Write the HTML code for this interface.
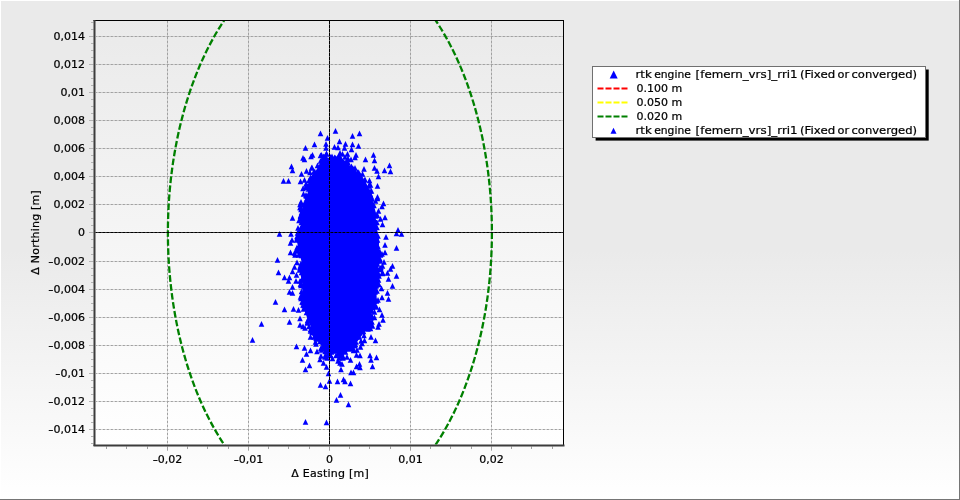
<!DOCTYPE html>
<html lang="en"><head><meta charset="utf-8"><title>Position scatter</title>
<style>
html,body{margin:0;padding:0;background:#fff;}
body{width:960px;height:500px;overflow:hidden;}
svg{display:block;}
text{font-family:"DejaVu Sans","Liberation Sans",sans-serif;font-size:11px;fill:#000;stroke:#000;stroke-width:0.22px;}
</style></head><body>
<svg width="960" height="500" viewBox="0 0 960 500">
<defs>
<linearGradient id="gp" x1="0" y1="0" x2="0" y2="1"><stop offset="0" stop-color="#eaeaea"/><stop offset="0.5" stop-color="#eaeaea"/><stop offset="1" stop-color="#ffffff"/></linearGradient>
<linearGradient id="gw" x1="0" y1="0" x2="0" y2="1"><stop offset="0" stop-color="#eaeaea"/><stop offset="1" stop-color="#ffffff"/></linearGradient>
<clipPath id="cp"><rect x="96" y="21" width="467" height="423.5"/></clipPath>
</defs>
<rect x="0" y="0" width="960" height="500" fill="url(#gp)"/>
<rect x="0" y="0" width="960" height="1" fill="#fff"/>
<rect x="0" y="0" width="1" height="500" fill="#fff"/>
<rect x="0" y="499" width="960" height="1" fill="#757575"/>
<rect x="959" y="0" width="1" height="500" fill="#757575"/>
<rect x="95" y="20" width="468" height="425" fill="url(#gw)"/>

<path d="M96 429.5H563M96 401.5H563M96 373.5H563M96 345.5H563M96 317.5H563M96 289.5H563M96 261.5H563M96 204.5H563M96 176.5H563M96 148.5H563M96 120.5H563M96 92.5H563M96 64.5H563M96 36.5H563M167.5 21V444.5M248.5 21V444.5M410.5 21V444.5M491.5 21V444.5" stroke="#000" stroke-opacity="0.13" stroke-width="1" fill="none"/>
<g stroke="#a0a0a0" stroke-width="1" stroke-dasharray="2 2" fill="none">
<path stroke-dashoffset="1.15" d="M96 429.5H563M96 401.5H563M96 373.5H563M96 345.5H563M96 317.5H563M96 289.5H563M96 261.5H563M96 204.5H563M96 176.5H563M96 148.5H563M96 120.5H563M96 92.5H563M96 64.5H563M96 36.5H563"/>
<path stroke-dashoffset="0.05" d="M167.5 21V444.5M248.5 21V444.5M410.5 21V444.5M491.5 21V444.5"/>
</g>
<path d="M96 232.5H563M329.5 21V444.5" stroke="#585858" stroke-width="1" fill="none"/>
<path d="M89 429.5H93.5M89 401.5H93.5M89 373.5H93.5M89 345.5H93.5M89 317.5H93.5M89 289.5H93.5M89 261.5H93.5M89 232.5H93.5M89 204.5H93.5M89 176.5H93.5M89 148.5H93.5M89 120.5H93.5M89 92.5H93.5M89 64.5H93.5M89 36.5H93.5M91 443.5H93.5M91 436.5H93.5M91 422.5H93.5M91 415.5H93.5M91 408.5H93.5M91 394.5H93.5M91 387.5H93.5M91 380.5H93.5M91 366.5H93.5M91 359.5H93.5M91 352.5H93.5M91 338.5H93.5M91 331.5H93.5M91 324.5H93.5M91 310.5H93.5M91 303.5H93.5M91 296.5H93.5M91 282.5H93.5M91 275.5H93.5M91 268.5H93.5M91 254.5H93.5M91 247.5H93.5M91 239.5H93.5M91 225.5H93.5M91 218.5H93.5M91 211.5H93.5M91 197.5H93.5M91 190.5H93.5M91 183.5H93.5M91 169.5H93.5M91 162.5H93.5M91 155.5H93.5M91 141.5H93.5M91 134.5H93.5M91 127.5H93.5M91 113.5H93.5M91 106.5H93.5M91 99.5H93.5M91 85.5H93.5M91 78.5H93.5M91 71.5H93.5M91 57.5H93.5M91 50.5H93.5M91 43.5H93.5M91 29.5H93.5M91 22.5H93.5" stroke="#b4b4b4" stroke-width="1" fill="none"/>
<path d="M167.5 446.5V450.7M248.5 446.5V450.7M329.5 446.5V450.7M410.5 446.5V450.7M491.5 446.5V450.7M106.5 446.5V449M126.5 446.5V449M147.5 446.5V449M187.5 446.5V449M207.5 446.5V449M228.5 446.5V449M268.5 446.5V449M288.5 446.5V449M309.5 446.5V449M349.5 446.5V449M369.5 446.5V449M390.5 446.5V449M430.5 446.5V449M450.5 446.5V449M471.5 446.5V449M511.5 446.5V449M531.5 446.5V449M552.5 446.5V449" stroke="#a0a0a0" stroke-width="1" fill="none"/>
<rect x="563" y="20" width="1" height="425" fill="#000"/>
<rect x="93.5" y="20" width="470.5" height="1" fill="#000"/>
<rect x="93.5" y="20" width="2" height="426" fill="#3c3c3c"/>
<rect x="93.5" y="444.5" width="471" height="2" fill="#3c3c3c"/>
<g clip-path="url(#cp)"><ellipse cx="329.9" cy="232.5" rx="162" ry="280" fill="none" stroke="#008000" stroke-width="2.3" stroke-dasharray="6.6 2.4"/></g>
<g fill="#0000ff" stroke="none">
<path d="M340.7 158.0L322.6 158.0L317.0 168.7L311.6 177.7L308.9 186.6L307.0 196.1L302.4 205.5L301.5 213.9L302.4 219.4L298.6 232.7L296.9 241.4L301.5 261.6L300.6 275.0L302.4 284.3L302.0 286.3L302.4 291.3L302.4 304.0L307.9 320.2L312.8 331.2L320.2 344.2L323.6 349.3L329.5 353.9L344.3 353.6L350.7 349.0L355.7 343.8L369.0 325.7L371.5 312.7L376.9 303.6L376.4 291.1L377.5 283.9L378.2 275.1L378.2 250.8L379.3 241.4L375.1 219.2L376.2 214.0L371.4 196.2L368.4 187.2L363.1 178.4L344.3 160.2Z"/>
<path d="M302 213l2.8 5.7h-5.6zM301.5 219l2.8 5.7h-5.6zM304 201.5l2.8 5.7h-5.6zM301.5 269.5l2.8 5.7h-5.6zM379 249.5l2.8 5.7h-5.6zM310 183l2.8 5.7h-5.6zM300.5 262.5l2.8 5.7h-5.6zM359 334l2.8 5.7h-5.6zM300.5 281l2.8 5.7h-5.6zM368 323.5l2.8 5.7h-5.6zM334 157l2.8 5.7h-5.6zM376.5 298l2.8 5.7h-5.6zM372 313l2.8 5.7h-5.6zM377.5 245.5l2.8 5.7h-5.6zM377.5 251.5l2.8 5.7h-5.6zM312 324l2.8 5.7h-5.6zM380 258l2.8 5.7h-5.6zM380 256l2.8 5.7h-5.6zM355 165l2.8 5.7h-5.6zM303 299.5l2.8 5.7h-5.6zM374 215.5l2.8 5.7h-5.6zM364 177.5l2.8 5.7h-5.6zM339 155l2.8 5.7h-5.6zM316.5 336l2.8 5.7h-5.6zM316 335l2.8 5.7h-5.6zM379.5 266.5l2.8 5.7h-5.6zM377.5 237l2.8 5.7h-5.6zM301.5 288.5l2.8 5.7h-5.6zM301 213.5l2.8 5.7h-5.6zM359 333.5l2.8 5.7h-5.6zM301 280l2.8 5.7h-5.6zM369.5 315l2.8 5.7h-5.6zM379 281.5l2.8 5.7h-5.6zM304 283l2.8 5.7h-5.6zM299 244.5l2.8 5.7h-5.6zM317 331.5l2.8 5.7h-5.6zM375 221l2.8 5.7h-5.6zM307.5 183.5l2.8 5.7h-5.6zM369 318l2.8 5.7h-5.6zM301 206.5l2.8 5.7h-5.6zM357.5 171.5l2.8 5.7h-5.6zM378.5 270.5l2.8 5.7h-5.6zM307.5 320l2.8 5.7h-5.6zM300.5 213.5l2.8 5.7h-5.6zM377.5 265.5l2.8 5.7h-5.6zM330.5 155l2.8 5.7h-5.6zM379 273l2.8 5.7h-5.6zM368 325l2.8 5.7h-5.6zM345.5 161l2.8 5.7h-5.6zM320 338.5l2.8 5.7h-5.6zM355.5 341.5l2.8 5.7h-5.6zM376 287l2.8 5.7h-5.6zM301.5 209.5l2.8 5.7h-5.6zM309.5 182.5l2.8 5.7h-5.6zM299 235l2.8 5.7h-5.6zM297 233.5l2.8 5.7h-5.6zM351.5 163.5l2.8 5.7h-5.6zM308 193l2.8 5.7h-5.6zM370.5 193l2.8 5.7h-5.6zM377 224.5l2.8 5.7h-5.6zM346.5 158l2.8 5.7h-5.6zM306.5 193l2.8 5.7h-5.6zM370.5 197.5l2.8 5.7h-5.6zM353 345l2.8 5.7h-5.6zM299 229.5l2.8 5.7h-5.6zM315 170.5l2.8 5.7h-5.6zM299 233.5l2.8 5.7h-5.6zM298.5 252l2.8 5.7h-5.6zM302.5 294.5l2.8 5.7h-5.6zM368.5 319.5l2.8 5.7h-5.6zM323 157l2.8 5.7h-5.6zM365 181.5l2.8 5.7h-5.6zM322.5 155.5l2.8 5.7h-5.6zM311.5 327.5l2.8 5.7h-5.6zM378 233l2.8 5.7h-5.6zM374 217l2.8 5.7h-5.6zM302 219.5l2.8 5.7h-5.6zM370.5 191.5l2.8 5.7h-5.6zM300 264l2.8 5.7h-5.6zM370.5 320.5l2.8 5.7h-5.6zM332 155l2.8 5.7h-5.6zM309.5 177.5l2.8 5.7h-5.6zM377.5 275l2.8 5.7h-5.6zM376.5 230l2.8 5.7h-5.6zM373.5 202.5l2.8 5.7h-5.6zM366.5 324l2.8 5.7h-5.6zM301.5 225.5l2.8 5.7h-5.6zM299.5 245.5l2.8 5.7h-5.6zM369 183l2.8 5.7h-5.6zM380 258l2.8 5.7h-5.6zM330.5 154l2.8 5.7h-5.6zM307.5 317.5l2.8 5.7h-5.6zM297.5 236l2.8 5.7h-5.6zM300.5 204.5l2.8 5.7h-5.6zM378 266.5l2.8 5.7h-5.6zM313.5 172l2.8 5.7h-5.6zM376.5 304l2.8 5.7h-5.6zM304 216.5l2.8 5.7h-5.6zM321 345l2.8 5.7h-5.6zM303 302l2.8 5.7h-5.6zM343.5 349l2.8 5.7h-5.6zM360.5 172.5l2.8 5.7h-5.6zM378 297l2.8 5.7h-5.6zM377.5 254l2.8 5.7h-5.6zM352 166.5l2.8 5.7h-5.6zM353 165.5l2.8 5.7h-5.6zM369.5 310.5l2.8 5.7h-5.6zM314.5 330l2.8 5.7h-5.6zM309 182l2.8 5.7h-5.6zM330.5 352l2.8 5.7h-5.6zM312 329.5l2.8 5.7h-5.6zM378 243.5l2.8 5.7h-5.6zM339 351l2.8 5.7h-5.6zM302 291l2.8 5.7h-5.6zM301.5 252.5l2.8 5.7h-5.6zM316.5 334.5l2.8 5.7h-5.6zM376.5 282l2.8 5.7h-5.6zM371 307.5l2.8 5.7h-5.6zM363.5 328.5l2.8 5.7h-5.6zM354.5 342.5l2.8 5.7h-5.6zM374.5 210.5l2.8 5.7h-5.6zM378.5 277l2.8 5.7h-5.6zM378 281l2.8 5.7h-5.6zM374 202.5l2.8 5.7h-5.6zM335.5 155l2.8 5.7h-5.6zM300 231l2.8 5.7h-5.6zM313.5 327l2.8 5.7h-5.6zM341.5 350l2.8 5.7h-5.6zM340.5 352.5l2.8 5.7h-5.6zM300.5 212.5l2.8 5.7h-5.6zM341.5 156.5l2.8 5.7h-5.6zM366.5 325.5l2.8 5.7h-5.6zM372 196l2.8 5.7h-5.6zM375 289l2.8 5.7h-5.6zM372.5 304.5l2.8 5.7h-5.6zM364 332.5l2.8 5.7h-5.6zM320.5 158l2.8 5.7h-5.6zM371 321l2.8 5.7h-5.6zM323.5 345.5l2.8 5.7h-5.6zM306 192.5l2.8 5.7h-5.6zM375 288.5l2.8 5.7h-5.6zM299 251.5l2.8 5.7h-5.6zM303.5 210l2.8 5.7h-5.6zM310.5 174.5l2.8 5.7h-5.6zM308.5 186l2.8 5.7h-5.6zM323.5 153.5l2.8 5.7h-5.6zM356 339l2.8 5.7h-5.6zM352 346l2.8 5.7h-5.6zM369 192l2.8 5.7h-5.6zM350.5 165l2.8 5.7h-5.6zM297 244.5l2.8 5.7h-5.6zM347.5 162l2.8 5.7h-5.6zM377 219.5l2.8 5.7h-5.6zM306.5 309.5l2.8 5.7h-5.6zM378 277l2.8 5.7h-5.6zM369 313.5l2.8 5.7h-5.6zM375.5 213l2.8 5.7h-5.6zM313.5 329.5l2.8 5.7h-5.6zM296.5 237l2.8 5.7h-5.6zM325 348.5l2.8 5.7h-5.6zM301.5 264.5l2.8 5.7h-5.6zM369 314.5l2.8 5.7h-5.6zM306 192l2.8 5.7h-5.6zM307.5 319l2.8 5.7h-5.6zM314 334l2.8 5.7h-5.6zM297.5 230l2.8 5.7h-5.6zM365 176.5l2.8 5.7h-5.6zM377.5 272l2.8 5.7h-5.6zM317.5 162.5l2.8 5.7h-5.6zM336.5 156l2.8 5.7h-5.6zM298 248l2.8 5.7h-5.6zM301 295.5l2.8 5.7h-5.6zM377 258.5l2.8 5.7h-5.6zM303.5 219.5l2.8 5.7h-5.6zM369 318l2.8 5.7h-5.6zM350.5 165.5l2.8 5.7h-5.6zM375 288.5l2.8 5.7h-5.6zM334.5 155l2.8 5.7h-5.6zM301.5 269.5l2.8 5.7h-5.6zM301.5 292l2.8 5.7h-5.6zM328.5 351l2.8 5.7h-5.6zM304 282l2.8 5.7h-5.6zM368 319.5l2.8 5.7h-5.6zM378.5 254l2.8 5.7h-5.6zM299.5 245l2.8 5.7h-5.6zM377.5 271.5l2.8 5.7h-5.6zM374.5 303l2.8 5.7h-5.6zM324.5 345l2.8 5.7h-5.6zM345.5 349l2.8 5.7h-5.6zM301.5 288.5l2.8 5.7h-5.6zM380 249l2.8 5.7h-5.6zM322.5 345l2.8 5.7h-5.6zM374.5 288l2.8 5.7h-5.6zM301 282.5l2.8 5.7h-5.6zM301 261.5l2.8 5.7h-5.6zM377.5 243.5l2.8 5.7h-5.6zM378 249l2.8 5.7h-5.6zM326 154l2.8 5.7h-5.6zM377 288l2.8 5.7h-5.6zM371.5 188l2.8 5.7h-5.6zM377.5 246.5l2.8 5.7h-5.6zM331.5 349l2.8 5.7h-5.6zM321 345.5l2.8 5.7h-5.6zM302 299l2.8 5.7h-5.6zM303.5 306l2.8 5.7h-5.6zM377.5 261l2.8 5.7h-5.6zM355 168l2.8 5.7h-5.6zM376 283l2.8 5.7h-5.6zM304 302.5l2.8 5.7h-5.6zM300.5 225.5l2.8 5.7h-5.6zM297 235.5l2.8 5.7h-5.6zM314 168.5l2.8 5.7h-5.6zM368 322.5l2.8 5.7h-5.6zM338.5 349.5l2.8 5.7h-5.6zM318 333l2.8 5.7h-5.6zM348.5 346l2.8 5.7h-5.6zM300 265l2.8 5.7h-5.6zM361 176l2.8 5.7h-5.6zM334.5 154.5l2.8 5.7h-5.6zM306.5 196l2.8 5.7h-5.6zM371 315l2.8 5.7h-5.6zM315 169l2.8 5.7h-5.6zM303.5 297l2.8 5.7h-5.6zM377.5 212.5l2.8 5.7h-5.6zM302 276.5l2.8 5.7h-5.6zM301 281.5l2.8 5.7h-5.6zM358 170.5l2.8 5.7h-5.6zM301.5 215.5l2.8 5.7h-5.6zM351 344.5l2.8 5.7h-5.6zM301 265l2.8 5.7h-5.6zM325 153.5l2.8 5.7h-5.6zM376 219.5l2.8 5.7h-5.6zM358 169l2.8 5.7h-5.6zM368 326l2.8 5.7h-5.6zM309 323.5l2.8 5.7h-5.6zM348 159.5l2.8 5.7h-5.6zM377 212l2.8 5.7h-5.6zM330 352.5l2.8 5.7h-5.6zM299.5 267l2.8 5.7h-5.6zM359 170l2.8 5.7h-5.6zM301 260.5l2.8 5.7h-5.6zM323.5 343.5l2.8 5.7h-5.6zM302 264l2.8 5.7h-5.6zM314.5 172.5l2.8 5.7h-5.6zM300 278l2.8 5.7h-5.6zM372 308l2.8 5.7h-5.6zM327.5 349l2.8 5.7h-5.6zM377.5 281.5l2.8 5.7h-5.6z"/>
<path d="M299 217.5l2.8 5.7h-5.6zM310 169.5l2.8 5.7h-5.6zM325 354l2.8 5.7h-5.6zM339 355l2.8 5.7h-5.6zM339 152.5l2.8 5.7h-5.6zM311.5 165l2.8 5.7h-5.6zM303.5 191l2.8 5.7h-5.6zM360.5 344l2.8 5.7h-5.6zM345 154l2.8 5.7h-5.6zM379.5 306.5l2.8 5.7h-5.6zM369.5 181.5l2.8 5.7h-5.6zM306 181l2.8 5.7h-5.6zM309 177.5l2.8 5.7h-5.6zM382 294.5l2.8 5.7h-5.6zM382 251l2.8 5.7h-5.6zM336 352.5l2.8 5.7h-5.6zM295 252l2.8 5.7h-5.6zM316 341l2.8 5.7h-5.6zM312 164.5l2.8 5.7h-5.6zM372 319l2.8 5.7h-5.6zM343 353.5l2.8 5.7h-5.6zM362 340.5l2.8 5.7h-5.6zM377.5 195.5l2.8 5.7h-5.6zM300.5 294l2.8 5.7h-5.6zM297 259.5l2.8 5.7h-5.6zM321.5 347l2.8 5.7h-5.6zM310.5 328l2.8 5.7h-5.6zM380.5 252l2.8 5.7h-5.6zM375.5 198l2.8 5.7h-5.6zM340 150l2.8 5.7h-5.6zM351 156.5l2.8 5.7h-5.6zM327 355l2.8 5.7h-5.6zM320.5 152.5l2.8 5.7h-5.6zM301 199l2.8 5.7h-5.6zM374.5 309l2.8 5.7h-5.6zM380 266l2.8 5.7h-5.6zM298 225l2.8 5.7h-5.6zM382.5 269.5l2.8 5.7h-5.6zM326.5 150.5l2.8 5.7h-5.6zM362.5 171l2.8 5.7h-5.6zM301.5 200l2.8 5.7h-5.6zM305 325l2.8 5.7h-5.6zM292 237l2.8 5.7h-5.6zM296.5 247l2.8 5.7h-5.6zM370.5 325.5l2.8 5.7h-5.6zM381 264.5l2.8 5.7h-5.6zM303 185.5l2.8 5.7h-5.6zM294.5 250l2.8 5.7h-5.6z"/>
<path d="M335.5 128l2.8 5.7h-5.6zM320.5 130.5l2.8 5.7h-5.6zM359.5 130.5l2.8 5.7h-5.6zM352.5 133l2.8 5.7h-5.6zM327.5 135l2.8 5.7h-5.6zM339.5 138.5l2.8 5.7h-5.6zM345.5 141l2.8 5.7h-5.6zM326 141l2.8 5.7h-5.6zM314.5 141.5l2.8 5.7h-5.6zM352.5 141.5l2.8 5.7h-5.6zM358.5 143l2.8 5.7h-5.6zM334.5 144l2.8 5.7h-5.6zM338 144.5l2.8 5.7h-5.6zM305.5 145l2.8 5.7h-5.6zM344.5 145l2.8 5.7h-5.6zM326 145l2.8 5.7h-5.6zM351.5 146.5l2.8 5.7h-5.6zM373.5 152l2.8 5.7h-5.6zM312.5 152l2.8 5.7h-5.6zM321.5 152l2.8 5.7h-5.6zM326.5 151l2.8 5.7h-5.6zM342.5 151l2.8 5.7h-5.6zM347.5 151l2.8 5.7h-5.6zM356 152l2.8 5.7h-5.6zM303 155l2.8 5.7h-5.6zM304.5 156.5l2.8 5.7h-5.6zM311 153.5l2.8 5.7h-5.6zM332 153.5l2.8 5.7h-5.6zM338.5 153.5l2.8 5.7h-5.6zM365.5 156.5l2.8 5.7h-5.6zM374.5 157.5l2.8 5.7h-5.6zM348 155.5l2.8 5.7h-5.6zM355 154.5l2.8 5.7h-5.6zM291.5 163.5l2.8 5.7h-5.6zM389.5 162.5l2.8 5.7h-5.6zM292.5 167.5l2.8 5.7h-5.6zM374.5 165l2.8 5.7h-5.6zM384.5 167.5l2.8 5.7h-5.6zM390.5 168.5l2.8 5.7h-5.6zM377 168l2.8 5.7h-5.6zM364 166l2.8 5.7h-5.6zM306.5 168l2.8 5.7h-5.6zM301.5 171l2.8 5.7h-5.6zM378.5 173.5l2.8 5.7h-5.6zM283.5 178l2.8 5.7h-5.6zM288.5 178l2.8 5.7h-5.6zM300.5 178.5l2.8 5.7h-5.6zM304.5 177l2.8 5.7h-5.6zM369.5 177.5l2.8 5.7h-5.6zM305.5 184.5l2.8 5.7h-5.6zM377.5 183l2.8 5.7h-5.6zM370.5 182l2.8 5.7h-5.6zM370 188l2.8 5.7h-5.6zM377.5 194l2.8 5.7h-5.6zM371.5 194l2.8 5.7h-5.6zM383.5 200.5l2.8 5.7h-5.6zM382 203.5l2.8 5.7h-5.6zM300 201.5l2.8 5.7h-5.6zM300 204.5l2.8 5.7h-5.6zM292.5 215l2.8 5.7h-5.6zM279.5 231l2.8 5.7h-5.6zM291 231l2.8 5.7h-5.6zM290.5 240l2.8 5.7h-5.6zM290.5 249.5l2.8 5.7h-5.6zM277.5 257l2.8 5.7h-5.6zM278.5 269.5l2.8 5.7h-5.6zM284.5 274.5l2.8 5.7h-5.6zM289.5 274.5l2.8 5.7h-5.6zM296.5 272l2.8 5.7h-5.6zM292.5 268.5l2.8 5.7h-5.6zM294.5 264l2.8 5.7h-5.6zM288.5 278l2.8 5.7h-5.6zM292.5 284l2.8 5.7h-5.6zM296 278l2.8 5.7h-5.6zM289.5 289l2.8 5.7h-5.6zM378.5 208l2.8 5.7h-5.6zM385 214.5l2.8 5.7h-5.6zM380.5 216l2.8 5.7h-5.6zM382.5 221.5l2.8 5.7h-5.6zM398 227l2.8 5.7h-5.6zM396.5 230.5l2.8 5.7h-5.6zM401.5 231l2.8 5.7h-5.6zM386 234l2.8 5.7h-5.6zM385 242l2.8 5.7h-5.6zM396.5 245l2.8 5.7h-5.6zM385 249.5l2.8 5.7h-5.6zM384 259l2.8 5.7h-5.6zM392.5 263l2.8 5.7h-5.6zM390.5 266l2.8 5.7h-5.6zM387.5 270l2.8 5.7h-5.6zM382.5 270.5l2.8 5.7h-5.6zM396.5 273l2.8 5.7h-5.6zM388.5 276l2.8 5.7h-5.6zM392.5 283l2.8 5.7h-5.6zM381.5 285.5l2.8 5.7h-5.6zM387.5 290l2.8 5.7h-5.6zM382.5 263l2.8 5.7h-5.6zM292.5 290l2.8 5.7h-5.6zM275.5 299l2.8 5.7h-5.6zM284.5 306.5l2.8 5.7h-5.6zM293.5 306l2.8 5.7h-5.6zM298.5 307l2.8 5.7h-5.6zM289.5 319l2.8 5.7h-5.6zM261.5 321l2.8 5.7h-5.6zM300 315.5l2.8 5.7h-5.6zM300 322l2.8 5.7h-5.6zM303 323.5l2.8 5.7h-5.6zM252.5 337l2.8 5.7h-5.6zM310.5 326.5l2.8 5.7h-5.6zM388.5 296l2.8 5.7h-5.6zM382 312l2.8 5.7h-5.6zM383 317l2.8 5.7h-5.6zM379 321l2.8 5.7h-5.6zM378 324l2.8 5.7h-5.6zM372.5 323l2.8 5.7h-5.6zM374.5 314.5l2.8 5.7h-5.6zM305.5 419l2.8 5.7h-5.6zM326.5 419.5l2.8 5.7h-5.6zM348.5 401.5l2.8 5.7h-5.6zM336.5 397l2.8 5.7h-5.6zM340.5 392l2.8 5.7h-5.6zM310.5 334l2.8 5.7h-5.6zM318 333l2.8 5.7h-5.6zM371 334l2.8 5.7h-5.6zM315.5 339l2.8 5.7h-5.6zM375.5 337.5l2.8 5.7h-5.6zM364.5 337.5l2.8 5.7h-5.6zM361 338l2.8 5.7h-5.6zM296.5 343.5l2.8 5.7h-5.6zM304.5 345l2.8 5.7h-5.6zM354.5 342.5l2.8 5.7h-5.6zM310.5 347.5l2.8 5.7h-5.6zM317 348.5l2.8 5.7h-5.6zM306.5 351l2.8 5.7h-5.6zM357 347l2.8 5.7h-5.6zM353.5 347.5l2.8 5.7h-5.6zM325.5 352l2.8 5.7h-5.6zM321 353l2.8 5.7h-5.6zM370 352.5l2.8 5.7h-5.6zM360 352.5l2.8 5.7h-5.6zM356.5 352l2.8 5.7h-5.6zM332.5 355.5l2.8 5.7h-5.6zM376.5 354.5l2.8 5.7h-5.6zM302.5 357l2.8 5.7h-5.6zM320 356.5l2.8 5.7h-5.6zM350.5 357l2.8 5.7h-5.6zM371 357l2.8 5.7h-5.6zM347 354l2.8 5.7h-5.6zM338 358l2.8 5.7h-5.6zM343 355l2.8 5.7h-5.6zM323.5 360l2.8 5.7h-5.6zM340 360l2.8 5.7h-5.6zM342 361l2.8 5.7h-5.6zM359.5 361l2.8 5.7h-5.6zM309.5 362.5l2.8 5.7h-5.6zM326.5 364l2.8 5.7h-5.6zM356.5 363.5l2.8 5.7h-5.6zM360 364.5l2.8 5.7h-5.6zM372.5 363.5l2.8 5.7h-5.6zM305.5 366.5l2.8 5.7h-5.6zM341 366.5l2.8 5.7h-5.6zM328.5 370.5l2.8 5.7h-5.6zM351 369.5l2.8 5.7h-5.6zM353.5 369.5l2.8 5.7h-5.6zM329.5 378l2.8 5.7h-5.6zM337.5 378.5l2.8 5.7h-5.6zM343.5 376.5l2.8 5.7h-5.6zM345 378.5l2.8 5.7h-5.6zM350.5 380.5l2.8 5.7h-5.6zM320.5 382l2.8 5.7h-5.6zM325.5 383.5l2.8 5.7h-5.6z"/>
</g>
<g stroke="#000" stroke-width="1" stroke-dasharray="3 1" fill="none"><path stroke-dashoffset="1.1" d="M95.5 232.5H563"/><path stroke-dashoffset="0" d="M329.5 21V444.5"/></g>
<g text-anchor="end">
<text x="85" y="433"><tspan textLength="5.2" lengthAdjust="spacingAndGlyphs">-</tspan>0,014</text>
<text x="85" y="405"><tspan textLength="5.2" lengthAdjust="spacingAndGlyphs">-</tspan>0,012</text>
<text x="85" y="377"><tspan textLength="5.2" lengthAdjust="spacingAndGlyphs">-</tspan>0,01</text>
<text x="85" y="349"><tspan textLength="5.2" lengthAdjust="spacingAndGlyphs">-</tspan>0,008</text>
<text x="85" y="321"><tspan textLength="5.2" lengthAdjust="spacingAndGlyphs">-</tspan>0,006</text>
<text x="85" y="293"><tspan textLength="5.2" lengthAdjust="spacingAndGlyphs">-</tspan>0,004</text>
<text x="85" y="265"><tspan textLength="5.2" lengthAdjust="spacingAndGlyphs">-</tspan>0,002</text>
<text x="85" y="236">0</text>
<text x="85" y="208">0,002</text>
<text x="85" y="180">0,004</text>
<text x="85" y="152">0,006</text>
<text x="85" y="124">0,008</text>
<text x="85" y="96">0,01</text>
<text x="85" y="68">0,012</text>
<text x="85" y="40">0,014</text>
</g>
<g text-anchor="middle">
<text x="167.5" y="463"><tspan textLength="5.2" lengthAdjust="spacingAndGlyphs">-</tspan>0,02</text>
<text x="248.5" y="463"><tspan textLength="5.2" lengthAdjust="spacingAndGlyphs">-</tspan>0,01</text>
<text x="329.5" y="463">0</text>
<text x="410.5" y="463">0,01</text>
<text x="491.5" y="463">0,02</text>
</g>
<text x="291.3" y="477" textLength="77.5" lengthAdjust="spacing">Δ Easting [m]</text>
<text transform="translate(39.3,274.7) rotate(-90)" x="0" y="0" stroke="none" textLength="84.5" lengthAdjust="spacing">Δ Northing [m]</text>
<rect x="595.6" y="69.5" width="333.1" height="71.1" fill="#000"/>
<rect x="592.5" y="66.5" width="333" height="71" fill="#fff" stroke="#707070" stroke-width="1"/>
<path d="M613.7 70.5 L617.7 78.5 L609.7 78.500 Z" fill="#0000ff"/>
<path d="M613.5 127.700 L616.5 133.8 L610.5 133.800 Z" fill="#0000ff"/>
<g stroke-width="2" stroke-dasharray="6 2" fill="none">
<path d="M597.5 88.500 H628" stroke="#ff0000"/>
<path d="M597.5 102.500 H628" stroke="#ffff00"/>
<path d="M597.5 116.500 H628" stroke="#008000"/>
</g>
<text y="78"><tspan x="635.5" textLength="16.4" lengthAdjust="spacingAndGlyphs">rtk</tspan> <tspan x="654.2" textLength="36.7" lengthAdjust="spacingAndGlyphs">engine</tspan> <tspan x="695.6" textLength="102.0" lengthAdjust="spacingAndGlyphs">[femern_vrs]_rri1</tspan> <tspan x="800.0" textLength="35.1" lengthAdjust="spacingAndGlyphs">(Fixed</tspan> <tspan x="837.5" textLength="11.6" lengthAdjust="spacingAndGlyphs">or</tspan> <tspan x="851.5" textLength="65.6" lengthAdjust="spacingAndGlyphs">converged)</tspan></text>
<text x="636.6" y="92">0.100 m</text>
<text x="636.6" y="106">0.050 m</text>
<text x="636.6" y="120">0.020 m</text>
<text y="134"><tspan x="635.5" textLength="16.4" lengthAdjust="spacingAndGlyphs">rtk</tspan> <tspan x="654.2" textLength="36.7" lengthAdjust="spacingAndGlyphs">engine</tspan> <tspan x="695.6" textLength="102.0" lengthAdjust="spacingAndGlyphs">[femern_vrs]_rri1</tspan> <tspan x="800.0" textLength="35.1" lengthAdjust="spacingAndGlyphs">(Fixed</tspan> <tspan x="837.5" textLength="11.6" lengthAdjust="spacingAndGlyphs">or</tspan> <tspan x="851.5" textLength="65.6" lengthAdjust="spacingAndGlyphs">converged)</tspan></text>
</svg></body></html>
